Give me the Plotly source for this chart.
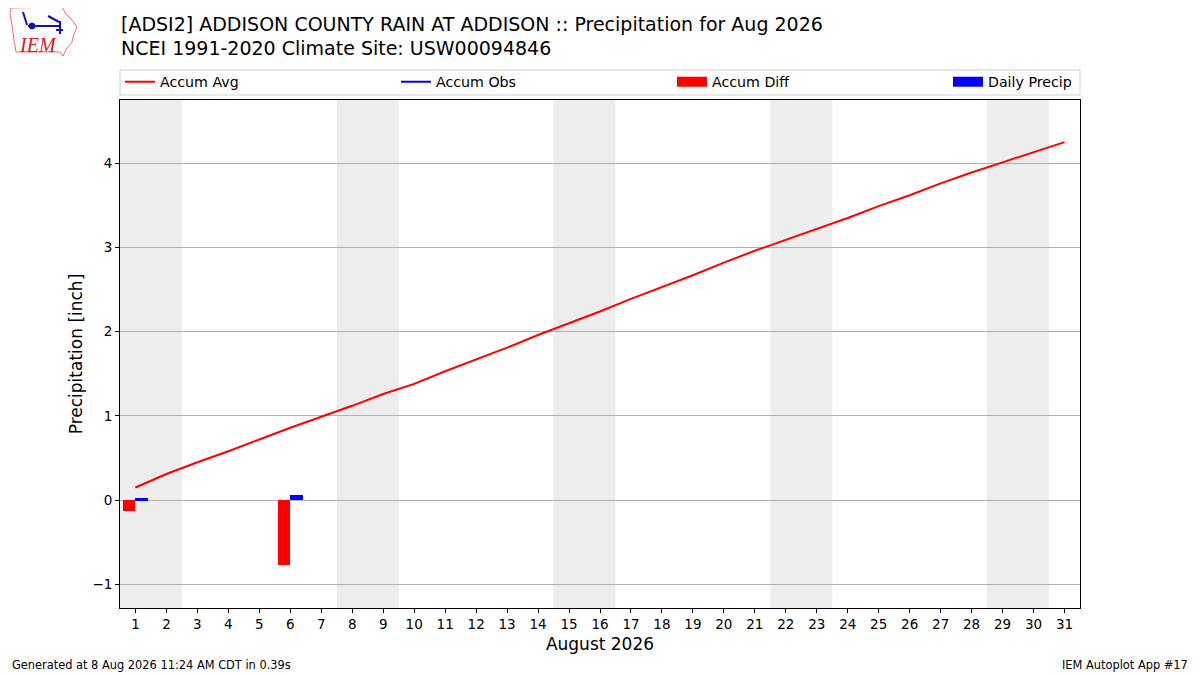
import datetime
import plotly.graph_objects as go

days = list(range(1, 32))
accum_avg = [0.15, 0.31, 0.45, 0.58, 0.72, 0.86, 0.99, 1.12, 1.26, 1.38,
             1.53, 1.67, 1.81, 1.96, 2.10, 2.24, 2.39, 2.53, 2.67, 2.82,
             2.96, 3.09, 3.22, 3.35, 3.49, 3.62, 3.76, 3.89, 4.01, 4.13, 4.25]
obs_days = [1, 6]
accum_diff = [-0.13, -0.77]
daily_precip = [0.02, 0.06]
accum_obs = [None] * len(days)

year, month = 2026, 8
weekend_days = [d for d in days if datetime.date(year, month, d).weekday() >= 5]

title_l1 = "[ADSI2] ADDISON COUNTY RAIN AT ADDISON :: Precipitation for Aug 2026"
title_l2 = "NCEI 1991-2020 Climate Site: USW00094846"
footer_left = "Generated at 8 Aug 2026 11:24 AM CDT in 0.39s"
footer_right = "IEM Autoplot App #17"

FONT = "DejaVu Sans"

# page layout (browser body has an 8px margin)
W, H = 1192, 667
PL, PR, PT, PB = 120, 1080, 100, 608   # plot area in page pixels


def px(x):
    return (x - PL) / (PR - PL)


def py(y):
    return (PB - y) / (PB - PT)


LW = 231
fig = go.Figure()
fig.add_trace(go.Scatter(x=days, y=accum_avg, mode="lines", name="Accum Avg",
                         line=dict(color="red", width=2), legendwidth=LW))
fig.add_trace(go.Scatter(x=days, y=accum_obs, mode="lines", name="Accum Obs",
                         line=dict(color="blue", width=2), legendwidth=LW))
fig.add_trace(go.Bar(x=obs_days, y=accum_diff, name="Accum Diff", width=0.4,
                     offset=-0.4, marker=dict(color="red", line=dict(width=0)),
                     showlegend=False))
fig.add_trace(go.Bar(x=obs_days, y=daily_precip, name="Daily Precip", width=0.4,
                     offset=0.0, marker=dict(color="blue", line=dict(width=0)),
                     showlegend=False))
# legend entries for the bar series (wide rectangular patches)
fig.add_trace(go.Scatter(x=[None], y=[None], mode="lines", name="Accum Diff",
                         line=dict(color="red", width=11), legendwidth=LW))
fig.add_trace(go.Scatter(x=[None], y=[None], mode="lines", name="Daily Precip",
                         line=dict(color="blue", width=11)))

shapes = []
groups = []
for d in weekend_days:
    if groups and d == groups[-1][-1] + 1:
        groups[-1].append(d)
    else:
        groups.append([d])
for g in groups:
    shapes.append(dict(type="rect", xref="x", yref="paper", x0=g[0] - 0.5, x1=g[-1] + 0.5,
                       y0=0, y1=1, fillcolor="#ededed", line=dict(width=0), layer="below"))

# legend frame
shapes.append(dict(type="rect", xref="paper", yref="paper", x0=px(120), x1=px(1080),
                   y0=py(95), y1=py(70), line=dict(color="#d0d0d0", width=1),
                   fillcolor="rgba(0,0,0,0)"))

# IEM logo (approximate)
outline = [(11, 8), (62, 7), (66, 14), (72, 20), (77, 27), (74, 34), (72, 42), (67, 48),
           (63, 56), (60, 52), (16, 52), (14, 40), (12, 25), (10, 14)]
path = "M " + " L ".join(f"{px(a):.5f},{py(b):.5f}" for a, b in outline) + " Z"
shapes.append(dict(type="path", xref="paper", yref="paper", path=path,
                   line=dict(color="#e87070", width=1), fillcolor="rgba(0,0,0,0)"))
for (a0, b0, a1, b1) in [(28, 26, 61, 26), (60, 21, 60, 34), (48, 16, 59, 22),
                         (23, 12, 27, 25), (56, 30, 63, 30)]:
    shapes.append(dict(type="line", xref="paper", yref="paper", x0=px(a0), y0=py(b0),
                       x1=px(a1), y1=py(b1), line=dict(color="#1010c0", width=2)))
shapes.append(dict(type="circle", xref="paper", yref="paper", x0=px(29), x1=px(35),
                   y0=py(29), y1=py(23), fillcolor="#1010c0", line=dict(color="#1010c0", width=1)))

annotations = [
    dict(text=title_l1, x=px(120), y=py(24), xanchor="left", yanchor="middle",
         font=dict(family=FONT, size=19, color="black")),
    dict(text=title_l2, x=px(120), y=py(48), xanchor="left", yanchor="middle",
         font=dict(family=FONT, size=19, color="black")),
    dict(text=footer_left, x=px(11), y=py(665), xanchor="left", yanchor="middle",
         font=dict(family=FONT, size=11.4, color="black")),
    dict(text=footer_right, x=px(1189), y=py(665), xanchor="right", yanchor="middle",
         font=dict(family=FONT, size=11.4, color="black")),
    dict(text="<i>IEM</i>", x=px(38), y=py(45), xanchor="center", yanchor="middle",
         font=dict(family="Liberation Serif", size=20, color="#d02020")),
]
for a in annotations:
    a.update(xref="paper", yref="paper", showarrow=False, borderpad=0)

fig.update_layout(
    width=W, height=H,
    margin=dict(l=PL - 8, r=W - (PR - 8), t=PT - 8, b=H - (PB - 8), autoexpand=False),
    paper_bgcolor="white", plot_bgcolor="white",
    font=dict(family=FONT, size=13, color="black"),
    barmode="overlay",
    bargap=0,
    shapes=shapes,
    annotations=annotations,
    showlegend=True,
    legend=dict(orientation="h", xref="container", yref="container",
                x=(PL - 8) / W, xanchor="left", y=1 - (82 - 8) / H, yanchor="middle",
                borderwidth=0, bgcolor="rgba(0,0,0,0)",
                font=dict(family=FONT, size=14.2), traceorder="normal",
                itemwidth=30, tracegroupgap=0),
)
fig.update_xaxes(range=[0.5, 31.5], tickmode="linear", tick0=1, dtick=1,
                 showgrid=False, zeroline=False, showline=True, linecolor="black",
                 linewidth=1, mirror=True, ticks="outside", ticklen=4, tickcolor="black",
                 tickfont=dict(size=13.5),
                 title=dict(text="August 2026", font=dict(size=17), standoff=6))
fig.update_yaxes(range=[-1.28, 4.75], tickmode="linear", tick0=0, dtick=1,
                 showgrid=True, gridcolor="#b0b0b0", gridwidth=1, zeroline=False,
                 showline=True, linecolor="black", linewidth=1, mirror=True,
                 ticks="outside", ticklen=4, tickcolor="black", tickfont=dict(size=13.5),
                 title=dict(text="Precipitation [inch]", font=dict(size=17), standoff=5))

fig.write_html("out.html")
